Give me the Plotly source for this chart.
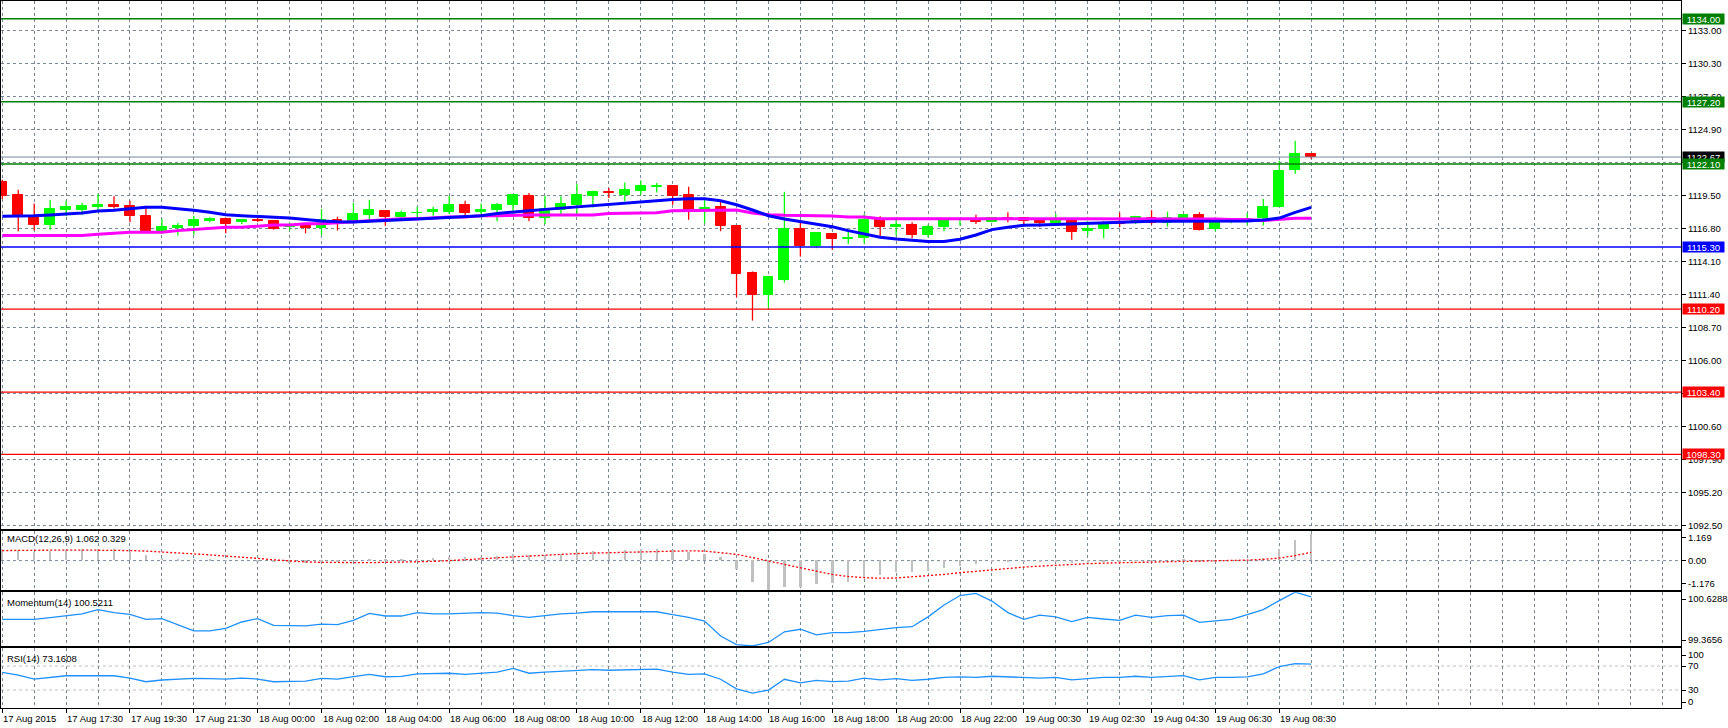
import plotly.graph_objects as go
from plotly.subplots import make_subplots

# ---------------- data ----------------
bar_index = list(range(83))
opens = [1120.59, 1119.58, 1117.81, 1117.07, 1118.35, 1118.35, 1118.60, 1118.76, 1118.68, 1117.86,
         1116.64, 1116.83, 1116.99, 1117.45, 1117.62, 1117.32, 1117.54, 1117.45, 1116.91, 1117.04,
         1116.83, 1117.54, 1117.29, 1117.94, 1118.27, 1117.78, 1118.05, 1118.14, 1118.19, 1118.76,
         1118.14, 1118.33, 1118.76, 1119.50, 1117.65, 1118.35, 1118.76, 1119.45, 1119.80, 1119.58,
         1119.91, 1120.24, 1120.32, 1119.58, 1118.22, 1118.60, 1117.04, 1113.20, 1111.35, 1112.57,
         1116.77, 1115.35, 1116.39, 1115.93, 1116.04, 1117.54, 1116.91, 1117.13, 1116.28, 1116.91,
         1117.48, 1117.45, 1117.37, 1117.65, 1117.65, 1117.43, 1117.24, 1117.48, 1116.58, 1116.80,
         1117.37, 1117.24, 1117.67, 1117.29, 1117.51, 1117.95, 1116.77, 1117.35, 1117.35, 1117.65,
         1118.60, 1121.63, 1122.94]
highs = [1120.80, 1119.99, 1118.87, 1119.17, 1119.09, 1118.90, 1119.64, 1119.45, 1119.09, 1118.68,
         1117.59, 1117.26, 1117.86, 1117.73, 1117.70, 1117.60, 1117.67, 1117.50, 1117.32, 1117.10,
         1118.41, 1117.78, 1118.90, 1119.17, 1118.30, 1118.27, 1118.57, 1118.60, 1119.50, 1119.09,
         1118.87, 1118.90, 1119.60, 1119.72, 1119.50, 1119.45, 1120.45, 1119.91, 1120.13, 1120.59,
         1120.75, 1120.54, 1120.35, 1120.24, 1119.36, 1119.09, 1117.10, 1113.30, 1112.90, 1119.83,
         1117.32, 1116.50, 1116.45, 1116.58, 1118.00, 1117.81, 1117.54, 1117.32, 1117.13, 1117.60,
         1117.60, 1117.94, 1117.73, 1118.14, 1117.70, 1117.50, 1118.00, 1117.67, 1117.45, 1117.45,
         1118.11, 1117.86, 1118.30, 1118.19, 1118.00, 1118.14, 1117.59, 1117.67, 1118.08, 1119.23,
         1122.36, 1124.00, 1123.00]
lows = [1119.23, 1116.58, 1116.64, 1116.72, 1117.81, 1117.92, 1118.33, 1118.46, 1117.32, 1116.50,
        1116.36, 1116.23, 1116.31, 1117.32, 1116.42, 1117.18, 1117.35, 1116.72, 1116.64, 1116.42,
        1116.28, 1116.64, 1117.26, 1117.45, 1117.04, 1117.64, 1117.54, 1117.86, 1118.00, 1117.67,
        1117.73, 1117.40, 1117.81, 1117.40, 1117.18, 1117.81, 1118.00, 1118.54, 1119.31, 1119.04,
        1119.58, 1119.77, 1118.76, 1117.54, 1117.24, 1116.58, 1111.18, 1109.27, 1110.36, 1112.38,
        1114.51, 1115.19, 1115.08, 1115.55, 1115.60, 1116.04, 1116.23, 1116.01, 1116.09, 1116.58,
        1117.04, 1117.18, 1117.32, 1117.32, 1117.05, 1116.91, 1117.05, 1115.90, 1116.23, 1116.01,
        1116.91, 1117.18, 1117.13, 1116.96, 1117.26, 1116.64, 1116.58, 1117.24, 1117.13, 1117.05,
        1118.60, 1121.30, 1122.53]
closes = [1119.45, 1117.81, 1117.07, 1118.44, 1118.54, 1118.68, 1118.76, 1118.60, 1117.81, 1116.64,
          1116.96, 1117.04, 1117.54, 1117.62, 1117.15, 1117.54, 1117.40, 1116.77, 1117.07, 1116.83,
          1117.54, 1117.26, 1118.03, 1118.35, 1117.73, 1118.11, 1118.11, 1118.35, 1118.76, 1118.08,
          1118.35, 1118.76, 1119.58, 1117.65, 1118.44, 1118.85, 1119.58, 1119.77, 1119.69, 1119.99,
          1120.32, 1120.29, 1119.45, 1118.35, 1118.52, 1116.99, 1113.06, 1111.35, 1112.87, 1116.77,
          1115.35, 1116.45, 1115.93, 1116.04, 1117.54, 1116.91, 1117.13, 1116.28, 1116.96, 1117.54,
          1117.54, 1117.32, 1117.64, 1117.54, 1117.40, 1117.24, 1117.48, 1116.50, 1116.80, 1117.29,
          1117.21, 1117.78, 1117.29, 1117.70, 1117.95, 1116.72, 1117.37, 1117.51, 1117.62, 1118.60,
          1121.55, 1122.94, 1122.67]
ma_blue = [1117.81, 1117.81, 1117.86, 1117.92, 1117.97, 1118.08, 1118.25, 1118.30, 1118.44, 1118.55,
           1118.55, 1118.44, 1118.30, 1118.14, 1117.94, 1117.86, 1117.81, 1117.73, 1117.67, 1117.56,
           1117.43, 1117.37, 1117.35, 1117.40, 1117.48, 1117.54, 1117.59, 1117.65, 1117.70, 1117.78,
           1117.86, 1118.05, 1118.19, 1118.27, 1118.38, 1118.49, 1118.60, 1118.68, 1118.79, 1118.87,
           1118.98, 1119.12, 1119.20, 1119.25, 1119.25, 1119.09, 1118.76, 1118.33, 1117.86, 1117.59,
           1117.40, 1117.18, 1116.96, 1116.64, 1116.36, 1116.09, 1115.95, 1115.82, 1115.74, 1115.74,
           1115.93, 1116.28, 1116.72, 1116.91, 1117.07, 1117.10, 1117.15, 1117.18, 1117.24, 1117.29,
           1117.32, 1117.37, 1117.40, 1117.40, 1117.40, 1117.40, 1117.38, 1117.40, 1117.43, 1117.51,
           1117.67, 1118.14, 1118.55]
ma_magenta = [1116.25, 1116.25, 1116.25, 1116.25, 1116.25, 1116.25, 1116.34, 1116.42, 1116.50, 1116.50,
              1116.50, 1116.64, 1116.75, 1116.83, 1116.91, 1116.91, 1117.02, 1117.10, 1117.10, 1117.21,
              1117.21, 1117.29, 1117.37, 1117.48, 1117.54, 1117.62, 1117.62, 1117.70, 1117.75, 1117.75,
              1117.86, 1117.86, 1117.92, 1117.92, 1117.92, 1117.92, 1117.92, 1117.92, 1118.05, 1118.05,
              1118.11, 1118.11, 1118.27, 1118.27, 1118.33, 1118.33, 1118.33, 1118.08, 1117.95, 1117.89,
              1117.89, 1117.84, 1117.84, 1117.75, 1117.75, 1117.62, 1117.62, 1117.62, 1117.62, 1117.62,
              1117.62, 1117.62, 1117.62, 1117.65, 1117.65, 1117.65, 1117.65, 1117.60, 1117.60, 1117.60,
              1117.60, 1117.60, 1117.60, 1117.60, 1117.60, 1117.60, 1117.60, 1117.55, 1117.55, 1117.46,
              1117.54, 1117.65, 1117.65]
macd_main = [0.45, 0.42, 0.35, 0.38, 0.42, 0.45, 0.47, 0.45, 0.35, 0.20,
             0.10, 0.05, 0.02, 0.02, -0.02, 0.00, -0.03, -0.08, -0.10, -0.12,
             -0.08, -0.08, -0.02, 0.05, 0.03, 0.05, 0.06, 0.08, 0.15, 0.13,
             0.14, 0.17, 0.25, 0.20, 0.22, 0.25, 0.32, 0.36, 0.38, 0.40,
             0.45, 0.45, 0.40, 0.32, 0.27, 0.12, -0.36, -0.85, -1.176, -1.04,
             -1.04, -0.94, -0.90, -0.85, -0.69, -0.57, -0.48, -0.48, -0.42, -0.31,
             -0.22, -0.14, -0.08, -0.06, -0.05, -0.06, -0.04, -0.10, -0.10, -0.08,
             -0.06, -0.02, -0.02, 0.00, 0.03, -0.05, -0.04, -0.02, 0.00, 0.10,
             0.45, 0.80, 1.062]
macd_signal = [0.40, 0.41, 0.42, 0.42, 0.42, 0.42, 0.42, 0.41, 0.40, 0.38,
               0.35, 0.31, 0.27, 0.23, 0.18, 0.14, 0.09, 0.03, -0.02, -0.05,
               -0.07, -0.08, -0.08, -0.08, -0.07, -0.06, -0.05, -0.03, 0.00, 0.03,
               0.07, 0.11, 0.15, 0.19, 0.22, 0.25, 0.28, 0.30, 0.32, 0.34,
               0.36, 0.38, 0.39, 0.39, 0.38, 0.33, 0.25, 0.12, -0.02, -0.17,
               -0.30, -0.42, -0.55, -0.63, -0.68, -0.70, -0.69, -0.65, -0.60, -0.55,
               -0.48, -0.42, -0.36, -0.31, -0.26, -0.22, -0.18, -0.15, -0.12, -0.10,
               -0.08, -0.06, -0.05, -0.04, -0.03, -0.02, -0.01, 0.00, 0.02, 0.05,
               0.10, 0.20, 0.329]
momentum = [99.99, 99.99, 99.99, 100.03, 100.07, 100.12, 100.22, 100.15, 100.11, 99.99,
            100.01, 99.86, 99.72, 99.72, 99.78, 99.93, 100.01, 99.85, 99.84, 99.84,
            99.88, 99.87, 99.97, 100.13, 100.07, 100.07, 100.15, 100.12, 100.12, 100.14,
            100.15, 100.14, 100.08, 100.04, 100.08, 100.12, 100.14, 100.17, 100.17, 100.17,
            100.17, 100.17, 100.10, 100.04, 99.95, 99.60, 99.40, 99.37, 99.45, 99.70,
            99.76, 99.63, 99.68, 99.68, 99.71, 99.76, 99.80, 99.82, 100.05, 100.33,
            100.55, 100.60, 100.42, 100.15, 99.99, 100.09, 100.05, 99.94, 100.04, 100.00,
            99.97, 100.09, 100.04, 100.08, 100.09, 99.92, 99.96, 99.99, 100.10, 100.22,
            100.43, 100.63, 100.5211]
rsi = [59.5, 55.0, 48.3, 51.0, 53.8, 53.8, 53.8, 53.8, 50.0, 43.8,
       46.7, 48.0, 49.5, 49.0, 48.3, 50.0, 48.3, 43.8, 43.8, 45.0,
       49.5, 48.3, 52.2, 56.2, 52.2, 52.8, 57.0, 57.0, 58.0, 56.0,
       58.0, 60.0, 66.0, 58.0, 60.0, 61.0, 63.0, 64.0, 63.0, 64.0,
       65.0, 65.0, 60.0, 56.0, 57.0, 48.0, 32.0, 25.0, 30.0, 48.0,
       42.0, 46.0, 44.0, 45.0, 50.0, 47.0, 49.0, 46.0, 48.0, 51.0,
       52.0, 51.0, 53.0, 52.0, 51.0, 50.0, 51.0, 47.0, 49.0, 51.0,
       51.0, 53.0, 51.0, 53.0, 54.0, 47.0, 51.0, 51.0, 52.0, 57.0,
       69.0, 74.0, 73.1608]

price_ticks = [1133.00, 1130.30, 1127.60, 1124.90, 1122.20, 1119.50, 1116.80, 1114.10,
               1111.40, 1108.70, 1106.00, 1103.30, 1100.60, 1097.90, 1095.20, 1092.50]
# labels at 1122.20 and 1103.30 are fully hidden behind the level boxes in the reference
price_tick_text = ["1133.00", "1130.30", "1127.60", "1124.90", "", "1119.50", "1116.80", "1114.10",
                   "1111.40", "1108.70", "1106.00", "", "1100.60", "1097.90", "1095.20", "1092.50"]
level_values = [1134.00, 1127.20, 1122.10, 1115.30, 1110.20, 1103.40, 1098.30]
level_colors = ["#008000", "#008000", "#008000", "#0000ff", "#ff0000", "#ff0000", "#ff0000"]
bid_price = 1122.67
time_label_bars = [0, 4, 8, 12, 16, 20, 24, 28, 32, 36, 40, 44, 48, 52, 56, 60, 64, 68, 72, 76, 80]
time_labels = ["17 Aug 2015", "17 Aug 17:30", "17 Aug 19:30", "17 Aug 21:30", "18 Aug 00:00",
               "18 Aug 02:00", "18 Aug 04:00", "18 Aug 06:00", "18 Aug 08:00", "18 Aug 10:00",
               "18 Aug 12:00", "18 Aug 14:00", "18 Aug 16:00", "18 Aug 18:00", "18 Aug 20:00",
               "18 Aug 22:00", "19 Aug 00:30", "19 Aug 02:30", "19 Aug 04:30", "19 Aug 06:30",
               "19 Aug 08:30"]
grid_bars = list(range(0, 106, 2))

# ---------------- figure ----------------
W, HGT = 1728, 728
MT, MB, ML, MR = 0, 20, 1, 44
PH = HGT - MT - MB

def dom(top_px, bot_px):
    return [1 - bot_px / PH, 1 - top_px / PH]

fig = make_subplots(rows=4, cols=1, shared_xaxes=True, vertical_spacing=0)

GRID = "#778899"
FONT = "Liberation Sans, Arial, sans-serif"
FS = 9.5

# wicks
for bull, col in [(True, "#00ff00"), (False, "#ff0000")]:
    wx, wy = [], []
    for i in bar_index:
        if (closes[i] >= opens[i]) == bull:
            wx += [i, i, None]
            wy += [lows[i], highs[i], None]
    fig.add_trace(go.Scatter(x=wx, y=wy, mode="lines", line=dict(color=col, width=1.3),
                             hoverinfo="skip", showlegend=False), row=1, col=1)
# bodies
for bull, col in [(True, "#00ff00"), (False, "#ff0000")]:
    bx = [i for i in bar_index if (closes[i] >= opens[i]) == bull]
    fig.add_trace(go.Bar(x=bx, base=[min(opens[i], closes[i]) for i in bx],
                         y=[abs(closes[i] - opens[i]) for i in bx], width=0.62,
                         marker=dict(color=col, line=dict(color=col, width=1)),
                         showlegend=False), row=1, col=1)
# moving averages
fig.add_trace(go.Scatter(x=bar_index, y=ma_magenta, mode="lines", line=dict(color="#ff00ff", width=3),
                         showlegend=False), row=1, col=1)
fig.add_trace(go.Scatter(x=bar_index, y=ma_blue, mode="lines", line=dict(color="#0000ff", width=3),
                         showlegend=False), row=1, col=1)

# MACD
fig.add_trace(go.Bar(x=bar_index, y=macd_main, width=0.15, marker=dict(color="#c0c0c0", line=dict(width=0)),
                     showlegend=False), row=2, col=1)
fig.add_trace(go.Scatter(x=bar_index, y=macd_signal, mode="lines",
                         line=dict(color="#ff0000", width=1.3, dash="2px,2px"), showlegend=False), row=2, col=1)
# Momentum
fig.add_trace(go.Scatter(x=bar_index, y=momentum, mode="lines", line=dict(color="#1e90ff", width=1.3),
                         showlegend=False), row=3, col=1)
# RSI
fig.add_trace(go.Scatter(x=bar_index, y=rsi, mode="lines", line=dict(color="#1e90ff", width=1.3),
                         showlegend=False), row=4, col=1)

xr = [-0.08, 105.17]
for k in range(1, 5):
    ax = "xaxis" if k == 1 else f"xaxis{k}"
    fig.layout[ax].update(
        range=xr, showline=True, mirror=True, linecolor="black", linewidth=1,
        tickmode="array", tickvals=time_label_bars, showticklabels=False,
        ticks="outside" if k == 4 else "", ticklen=4, tickcolor="black",
        showgrid=True, gridcolor=GRID, griddash="3px,3px", gridwidth=1, zeroline=False,
        minor=dict(tickmode="array", tickvals=grid_bars, showgrid=True, gridcolor=GRID,
                   griddash="3px,3px", gridwidth=1, ticks=""),
    )

common_y = dict(side="right", showline=True, mirror=True, linecolor="black", linewidth=1,
                ticks="outside", ticklen=4, tickcolor="black", zeroline=False,
                tickfont=dict(family=FONT, size=FS, color="black"), tickmode="array")
fig.layout.yaxis.update(domain=dom(0, 529), range=[1092.17, 1135.455], tickvals=price_ticks,
                        ticktext=price_tick_text, showgrid=True, gridcolor=GRID,
                        griddash="3px,3px", gridwidth=1, **common_y)
fig.layout.yaxis2.update(domain=dom(531, 590), range=[-1.176, 1.169], tickvals=[0.931, 0.0, -0.898],
                         ticktext=["1.169", "0.00", "-1.176"], showgrid=False, **common_y)
fig.layout.yaxis3.update(domain=dom(592, 646), range=[99.3656, 100.6288], tickvals=[100.465, 99.506],
                         ticktext=["100.6288", "99.3656"], showgrid=False, **common_y)
fig.layout.yaxis4.update(domain=dom(648, 708), range=[0, 100], tickvals=[88.3, 70, 30, 10],
                         ticktext=["100", "70", "30", "0"], showgrid=False, **common_y)

shapes = []
# bid line
shapes.append(dict(type="line", xref="x domain", yref="y", x0=0, x1=1, y0=bid_price, y1=bid_price,
                   line=dict(color=GRID, width=1)))
for v, c in zip(level_values, level_colors):
    shapes.append(dict(type="line", xref="x domain", yref="y", x0=0, x1=1, y0=v, y1=v,
                       line=dict(color=c, width=1.6 if c == "#0000ff" else 1.3)))
shapes.append(dict(type="line", xref="x2 domain", yref="y2", x0=0, x1=1, y0=0, y1=0,
                   line=dict(color=GRID, width=1, dash="3px,3px"), layer="below"))
for lv in [70, 30]:
    shapes.append(dict(type="line", xref="x4 domain", yref="y4", x0=0, x1=1, y0=lv, y1=lv,
                       line=dict(color="#c0c0c0", width=1, dash="3px,3px"), layer="below"))

annotations = []
# bid box first so the 1122.10 level box sits on top of it, as in the reference
annotations.append(dict(x=1, xref="paper", xanchor="left", xshift=1, y=bid_price, yref="y", yanchor="middle",
                        text=f"{bid_price:.2f}", showarrow=False, bgcolor="black", width=41, height=10,
                        borderpad=0, font=dict(family=FONT, size=FS, color="white")))
for v, c in zip(level_values, level_colors):
    annotations.append(dict(x=1, xref="paper", xanchor="left", xshift=1, y=v, yref="y", yanchor="middle",
                            text=f"{v:.2f}", showarrow=False, bgcolor=c, width=41, height=10, borderpad=0,
                            font=dict(family=FONT, size=FS, color="white")))
for b, t in zip(time_label_bars, time_labels):
    annotations.append(dict(x=b, xref="x4", xanchor="left", xshift=-1, y=0, yref="paper", yanchor="middle",
                            yshift=-10, text=t, showarrow=False,
                            font=dict(family=FONT, size=FS, color="black")))
panel_labels = [("y2 domain", "MACD(12,26,9) 1.062 0.329", -7),
                ("y3 domain", "Momentum(14) 100.5211", -10),
                ("y4 domain", "RSI(14) 73.1608", -10)]
for yref, t, ys in panel_labels:
    annotations.append(dict(x=0, xref="paper", xanchor="left", xshift=4, y=1, yref=yref, yanchor="middle",
                            yshift=ys, text=t, showarrow=False,
                            font=dict(family=FONT, size=FS, color="black")))

fig.update_layout(width=W, height=HGT, margin=dict(l=ML, r=MR, t=MT, b=MB),
                  paper_bgcolor="white", plot_bgcolor="white", barmode="overlay", bargap=0,
                  showlegend=False, shapes=shapes, annotations=annotations,
                  font=dict(family=FONT, size=FS, color="black"))

fig.write_html("out.html", config={"displayModeBar": False},
               post_script="document.body.style.margin='0';document.body.style.overflow='hidden';")
